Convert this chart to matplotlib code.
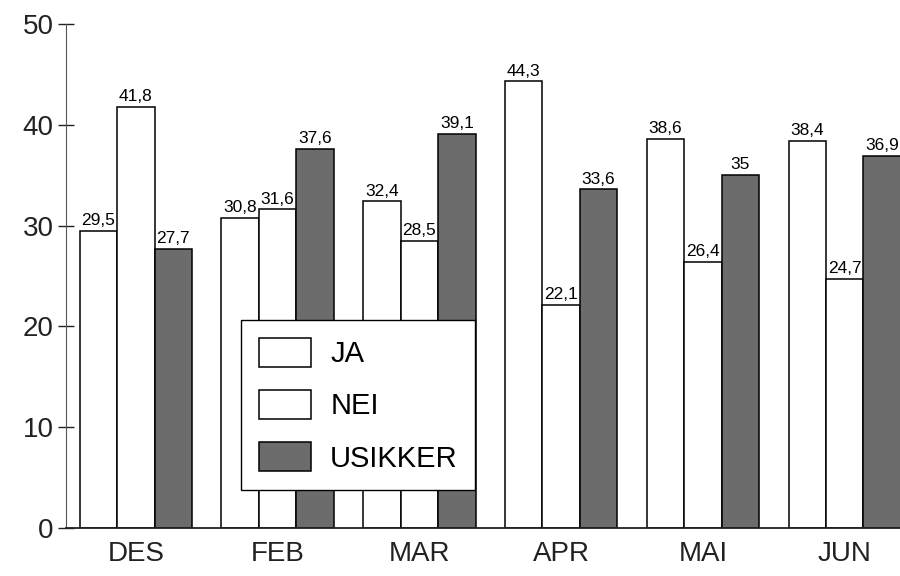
import matplotlib.pyplot as plt
import numpy as np

plt.rcParams['font.family'] = ['Liberation Sans', 'DejaVu Sans']

# Data
maaneder = ['DES', 'FEB', 'MAR', 'APR', 'MAI', 'JUN']
ja = [29.5, 30.8, 32.4, 44.3, 38.6, 38.4]
nei = [41.8, 31.6, 28.5, 22.1, 26.4, 24.7]
usikker = [27.7, 37.6, 39.1, 33.6, 35, 36.9]
serier = ['JA', 'NEI', 'USIKKER']


def fmt(v):
    # norsk desimalkomma, heltall uten desimaler
    if float(v).is_integer():
        return str(int(v))
    return f"{v:.1f}".replace('.', ',')


fig = plt.figure(figsize=(9, 5.76), dpi=100)
ax = fig.add_axes([0.0733, 0.0833, 0.9267, 0.875])

x = np.arange(len(maaneder))
w = 0.264
farger = ['white', 'white', '#6c6c6c']
verdier = [ja, nei, usikker]

for i, (navn, vals, farge) in enumerate(zip(serier, verdier, farger)):
    bars = ax.bar(x + (i - 1) * w, vals, w, color=farge, edgecolor='black',
                  linewidth=1.1, label=navn)
    ax.bar_label(bars, labels=[fmt(v) for v in vals], padding=2, fontsize=12.5)

ax.set_xlim(-0.493, 5.39)
ax.set_ylim(0, 50)
ax.set_yticks([0, 10, 20, 30, 40, 50])
ax.set_xticks(x)
ax.set_xticklabels(maaneder)

ax.spines['top'].set_visible(False)
ax.spines['right'].set_visible(False)
ax.spines['left'].set_color('#555555')
ax.spines['bottom'].set_color('#222222')
ax.spines['bottom'].set_linewidth(1.3)

ax.tick_params(axis='y', direction='inout', length=12, width=1, colors='#222222',
               labelsize=20, pad=3)
ax.tick_params(axis='x', length=0, labelsize=20, pad=9, colors='#222222')

leg = ax.legend(loc='lower left', bbox_to_anchor=(0.268, 0.149),
                bbox_transform=fig.transFigure, borderaxespad=0,
                fontsize=21, fancybox=False, framealpha=1, edgecolor='black',
                handlelength=1.8, handleheight=1.15, labelspacing=0.75,
                borderpad=0.6, handletextpad=0.65)
leg.get_frame().set_linewidth(1.0)

fig.savefig('out.png', dpi=100)
